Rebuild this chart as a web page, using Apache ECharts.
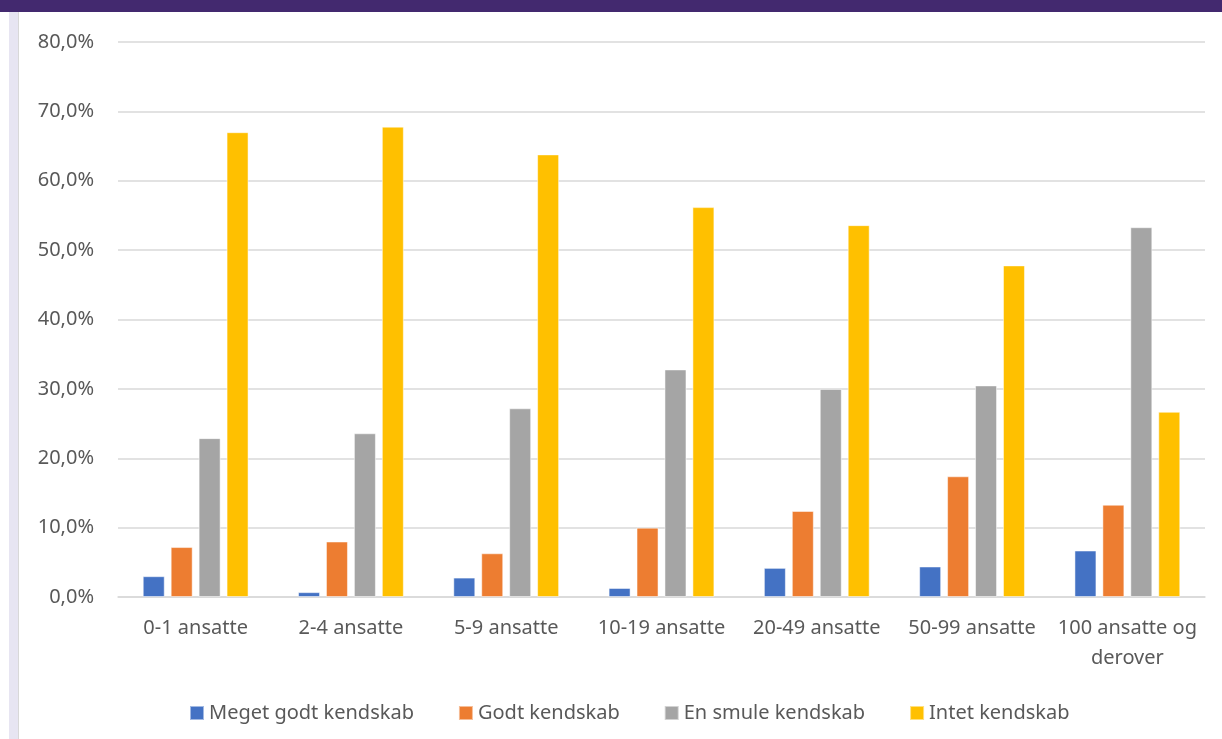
<!DOCTYPE html>
<html>
<head>
<meta charset="utf-8">
<script src="https://cdn.jsdelivr.net/npm/echarts@6/dist/echarts.min.js"></script>
<style>
html,body{margin:0;padding:0;background:#fff;}
#top{position:absolute;left:0;top:0;width:1222px;height:12px;background:#43296f;}
#strip{position:absolute;left:9px;top:12px;width:9px;height:727px;background:#e7e5f2;}
#edge{position:absolute;left:18px;top:12px;width:1px;height:727px;background:#d8d8d8;}
#chart{position:absolute;left:0;top:0;width:1222px;height:739px;}
</style>
</head>
<body>
<div id="top"></div><div id="strip"></div><div id="edge"></div>
<div id="chart"></div>
<script>
const categories = ['0-1 ansatte','2-4 ansatte','5-9 ansatte','10-19 ansatte','20-49 ansatte','50-99 ansatte','100 ansatte og\nderover'];
const seriesNames = ['Meget godt kendskab','Godt kendskab','En smule kendskab','Intet kendskab'];
const megetGodt = [3.0, 0.7, 2.8, 1.3, 4.2, 4.4, 6.7];
const godt = [7.2, 8.0, 6.3, 10.0, 12.4, 17.4, 13.3];
const enSmule = [22.9, 23.6, 27.2, 32.8, 30.0, 30.5, 53.3];
const intet = [67.0, 67.8, 63.8, 56.2, 53.6, 47.8, 26.7];
const colors = ['#4472C4','#ED7D31','#A5A5A5','#FFC000'];
const values = [megetGodt, godt, enSmule, intet];
const font = '"Noto Sans", "Open Sans", sans-serif';
const chart = echarts.init(document.getElementById('chart'));
chart.setOption({
  animation:false,
  color: colors,
  grid:{left:118,right:17,top:42,bottom:142},
  legend:{
    top:698, left:184,
    itemWidth:14,itemHeight:14,itemGap:44,icon:'rect',
    textStyle:{color:'#595959',fontSize:20,fontFamily:font},
    data: seriesNames
  },
  xAxis:{
    type:'category', data:categories,
    axisLine:{lineStyle:{color:'#d9d9d9',width:1.5}},
    axisTick:{show:false},
    axisLabel:{color:'#595959',fontSize:20,fontFamily:font,margin:16,interval:0,lineHeight:30}
  },
  yAxis:{
    type:'value',min:0,max:80,interval:10,
    axisLine:{show:false},axisTick:{show:false},
    splitLine:{lineStyle:{color:'#d9d9d9',width:1.5}},
    axisLabel:{color:'#595959',fontSize:20,fontFamily:font,margin:24,
      formatter:v=>v.toFixed(1).replace('.',',')+'%'}
  },
  series: seriesNames.map((n,i)=>({
    name:n,type:'bar',data:values[i],
    barWidth:22,barGap:'27%',
    itemStyle:{color:colors[i],borderColor:'rgba(255,255,255,0.5)',borderWidth:1}
  }))
});
</script>
</body>
</html>
